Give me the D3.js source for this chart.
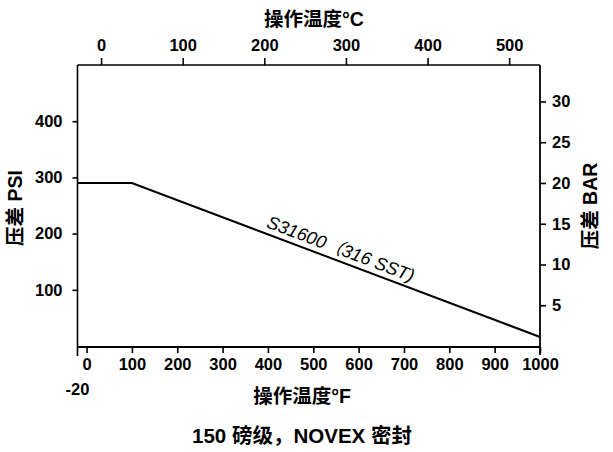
<!DOCTYPE html>
<html>
<head>
<meta charset="utf-8">
<script src="https://cdn.jsdelivr.net/npm/d3@7"></script>
<style>
  html, body { margin: 0; padding: 0; background: #fff; }
  svg { display: block; }
  text { font-family: "Liberation Sans", Arial, "Noto Sans CJK SC", sans-serif; fill: #000; }
</style>
</head>
<body>
<svg id="chart" width="613" height="452"></svg>
<script>
// Allowable differential pressure vs. operating temperature, 150 class
const tempF = [-20, 100, 1000];
const pressurePSI = [290, 290, 16];

const fTicks = [0, 100, 200, 300, 400, 500, 600, 700, 800, 900, 1000];
const cTicks = [0, 100, 200, 300, 400, 500];
const psiTicks = [100, 200, 300, 400];
const barTicks = [5, 10, 15, 20, 25, 30];

const seriesLabel = "S31600（316 SST)";
const topTitle = "操作温度°C";
const bottomTitle = "操作温度°F";
const leftTitle = "压差 PSI";
const rightTitle = "压差 BAR";
const caption = "150 磅级，NOVEX 密封";

const PSI_PER_BAR = 14.5038;
const fToC = f => (f - 32) / 1.8;

const plotLeft = 77.5, plotRight = 540, plotTop = 65, plotBottom = 347;
const tickFont = "16.5px";
const titleFont = "19.5px";

const svg = d3.select("#chart");

const x = d3.scaleLinear().domain([-20, 1000]).range([plotLeft, plotRight]);
const xC = d3.scaleLinear().domain([fToC(-20), fToC(1000)]).range([plotLeft, plotRight]);
const y = d3.scaleLinear().domain([0, 500]).range([plotBottom - 1, plotTop]);
const yBar = d3.scaleLinear().domain([0, 500 / PSI_PER_BAR]).range([plotBottom - 1, plotTop]);

function styleAxis(g) {
  g.select(".domain").remove();
  g.selectAll(".tick line").attr("stroke", "#000").attr("stroke-width", 1.6);
  g.selectAll(".tick text")
    .style("font-size", tickFont)
    .style("font-weight", "bold")
    .attr("fill", "#000");
}

// Bottom axis (°F)
svg.append("g")
  .attr("transform", `translate(0,${plotBottom})`)
  .call(d3.axisBottom(x).tickValues(fTicks).tickSize(6).tickPadding(5).tickFormat(d3.format("d")))
  .call(styleAxis);

// Extra label for the -20 °F origin
svg.append("text")
  .attr("x", x(-20)).attr("y", 395)
  .attr("text-anchor", "middle")
  .style("font-size", tickFont).style("font-weight", "bold")
  .text("-20");

// Top axis (°C)
svg.append("g")
  .attr("transform", `translate(0,${plotTop})`)
  .call(d3.axisTop(xC).tickValues(cTicks).tickSize(7).tickPadding(7).tickFormat(d3.format("d")))
  .call(styleAxis);

// Left axis (PSI)
svg.append("g")
  .attr("transform", `translate(${plotLeft},0)`)
  .call(d3.axisLeft(y).tickValues(psiTicks).tickSize(5).tickPadding(10).tickFormat(d3.format("d")))
  .call(styleAxis);

// Right axis (BAR)
svg.append("g")
  .attr("transform", `translate(${plotRight},0)`)
  .call(d3.axisRight(yBar).tickValues(barTicks).tickSize(6).tickPadding(6).tickFormat(d3.format("d")))
  .call(styleAxis);

// Frame
const frame = svg.append("g").attr("stroke", "#000").attr("fill", "none");
frame.append("line").attr("x1", plotLeft).attr("x2", plotRight).attr("y1", plotTop).attr("y2", plotTop).attr("stroke-width", 1.3);
frame.append("line").attr("x1", plotLeft).attr("x2", plotRight).attr("y1", plotBottom).attr("y2", plotBottom).attr("stroke-width", 1.8);
frame.append("line").attr("x1", plotLeft).attr("x2", plotLeft).attr("y1", plotTop).attr("y2", plotBottom + 9).attr("stroke-width", 1.6);
frame.append("line").attr("x1", plotRight).attr("x2", plotRight).attr("y1", plotTop).attr("y2", plotBottom + 8).attr("stroke-width", 1.8);

// Pressure curve
const line = d3.line().x((d, i) => x(tempF[i])).y(d => y(d));
svg.append("path")
  .datum(pressurePSI)
  .attr("d", line)
  .attr("fill", "none")
  .attr("stroke", "#000")
  .attr("stroke-width", 2);

// Series label laid along the sloped segment
const labelF = 390;
const labelPSI = pressurePSI[1] + (pressurePSI[2] - pressurePSI[1]) * (labelF - tempF[1]) / (tempF[2] - tempF[1]);
const angle = Math.atan2(y(pressurePSI[2]) - y(pressurePSI[1]), x(tempF[2]) - x(tempF[1])) * 180 / Math.PI;
svg.append("text")
  .attr("transform", `translate(${x(labelF)},${y(labelPSI)}) rotate(${angle})`)
  .attr("dy", -6)
  .style("font-size", "18px")
  .style("font-style", "italic")
  .text(seriesLabel);

// Axis titles
svg.append("text")
  .attr("x", 314).attr("y", 26)
  .attr("text-anchor", "middle")
  .style("font-size", titleFont).style("font-weight", "bold")
  .text(topTitle);

svg.append("text")
  .attr("x", 302).attr("y", 403)
  .attr("text-anchor", "middle")
  .style("font-size", titleFont).style("font-weight", "bold")
  .text(bottomTitle);

svg.append("text")
  .attr("transform", `translate(22,208) rotate(-90)`)
  .attr("text-anchor", "middle")
  .style("font-size", titleFont).style("font-weight", "bold")
  .text(leftTitle);

svg.append("text")
  .attr("transform", `translate(597,206) rotate(-90)`)
  .attr("text-anchor", "middle")
  .style("font-size", titleFont).style("font-weight", "bold")
  .text(rightTitle);

// Caption
svg.append("text")
  .attr("x", 302).attr("y", 443)
  .attr("text-anchor", "middle")
  .style("font-size", "20.5px").style("font-weight", "bold")
  .text(caption);
</script>
</body>
</html>
